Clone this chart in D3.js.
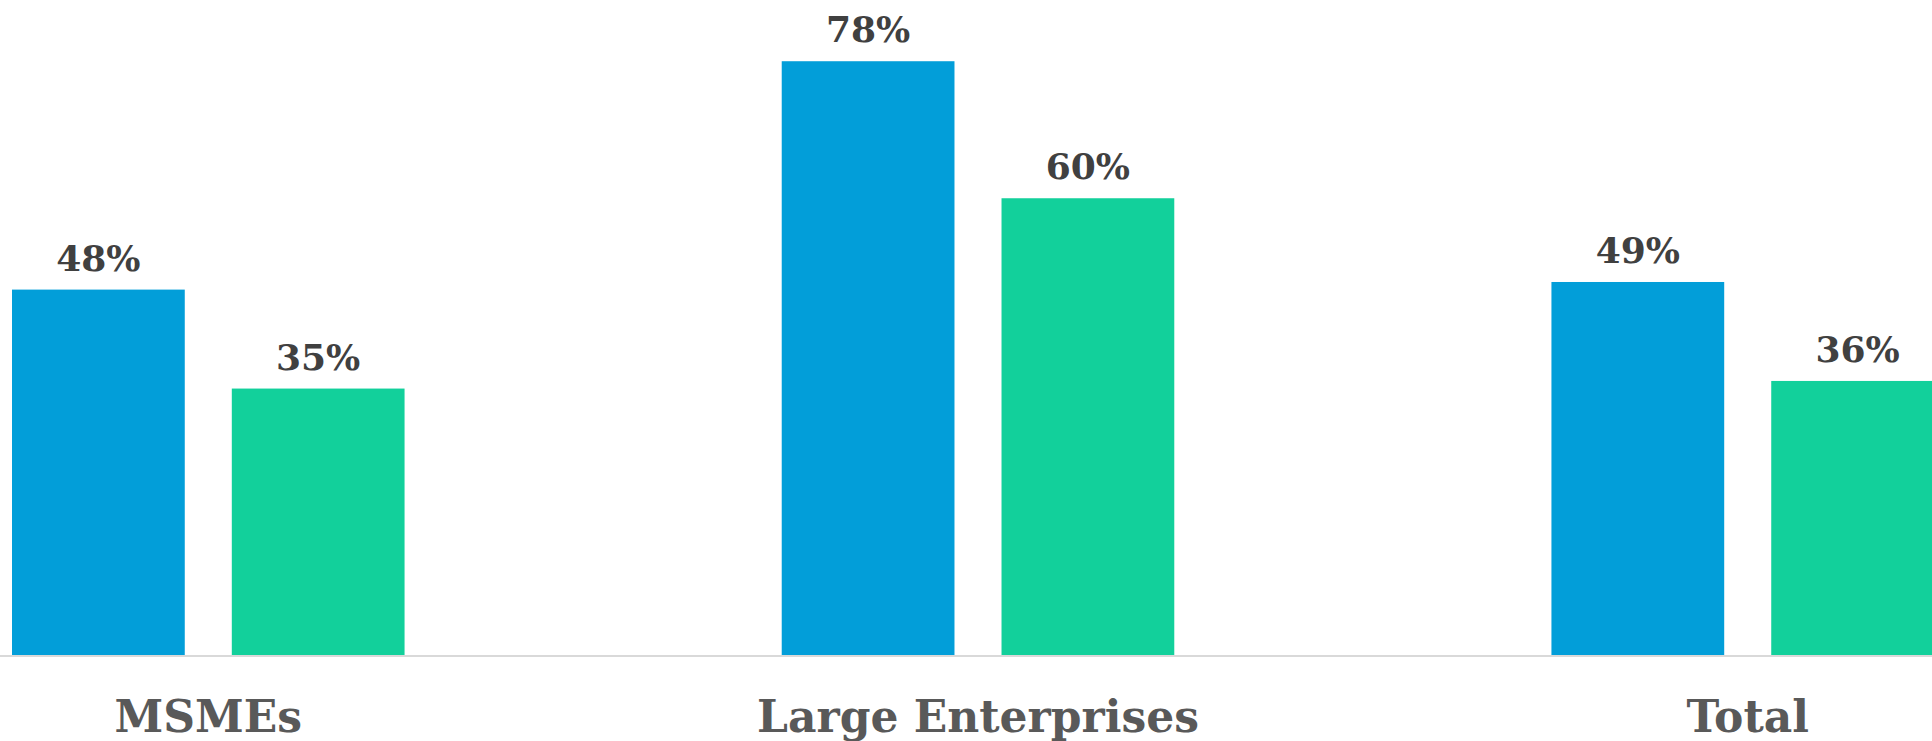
<!DOCTYPE html>
<html>
<head>
  <meta charset="utf-8">
  <title>MSMEs vs Large Enterprises</title>
  <script src="https://d3js.org/d3.v7.min.js"></script>
  <style>
    html, body { margin: 0; padding: 0; background: #fff; overflow: hidden; }
    .value-label { font-family: "DejaVu Serif", serif; font-weight: bold; font-size: 36px; fill: #404040; }
    .cat-label { font-family: "DejaVu Serif", serif; font-weight: bold; font-size: 44px; fill: #595959; }
  </style>
</head>
<body>
<svg id="chart" width="1932" height="741"></svg>
<script>
// data
var categories = ["MSMEs", "Large Enterprises", "Total"];
var seriesNames = ["A", "B"];
var seriesA = [48, 78, 49];
var seriesB = [35, 60, 36];
var colors = ["#029ED9", "#12D09B"];

var svg = d3.select("#chart");
var baseY = 655;

// scales
var x0 = d3.scaleBand()
  .domain(categories)
  .range([12, 1944])
  .paddingInner(0.49)
  .paddingOuter(0);

var x1 = d3.scaleBand()
  .domain(seriesNames)
  .range([0, x0.bandwidth()])
  .paddingInner(0.214);

var y = d3.scaleLinear()
  .domain([0, 80])
  .range([baseY, baseY - 609]);

var rows = categories.map(function(c, i) {
  return { cat: c, values: [
    { s: "A", v: seriesA[i], color: colors[0] },
    { s: "B", v: seriesB[i], color: colors[1] }
  ] };
});

var groups = svg.selectAll(".group")
  .data(rows)
  .enter()
  .append("g")
  .attr("class", "group")
  .attr("transform", function(d) { return "translate(" + x0(d.cat) + ",0)"; });

groups.selectAll("rect")
  .data(function(d) { return d.values; })
  .enter()
  .append("rect")
  .attr("x", function(d) { return x1(d.s); })
  .attr("y", function(d) { return y(d.v); })
  .attr("width", x1.bandwidth())
  .attr("height", function(d) { return y(0) - y(d.v); })
  .attr("fill", function(d) { return d.color; });

groups.selectAll(".value-label")
  .data(function(d) { return d.values; })
  .enter()
  .append("text")
  .attr("class", "value-label")
  .attr("x", function(d) { return x1(d.s) + x1.bandwidth() / 2; })
  .attr("y", function(d) { return y(d.v) - 19; })
  .attr("text-anchor", "middle")
  .text(function(d) { return d.v + "%"; });

// baseline
svg.append("line")
  .attr("x1", 0)
  .attr("x2", 1932)
  .attr("y1", baseY + 1)
  .attr("y2", baseY + 1)
  .attr("stroke", "#d9d9d9")
  .attr("stroke-width", 2);

// category labels
svg.selectAll(".cat-label")
  .data(categories)
  .enter()
  .append("text")
  .attr("class", "cat-label")
  .attr("x", function(d) { return x0(d) + x0.bandwidth() / 2; })
  .attr("y", 732)
  .attr("text-anchor", "middle")
  .text(function(d) { return d; });
</script>
</body>
</html>
